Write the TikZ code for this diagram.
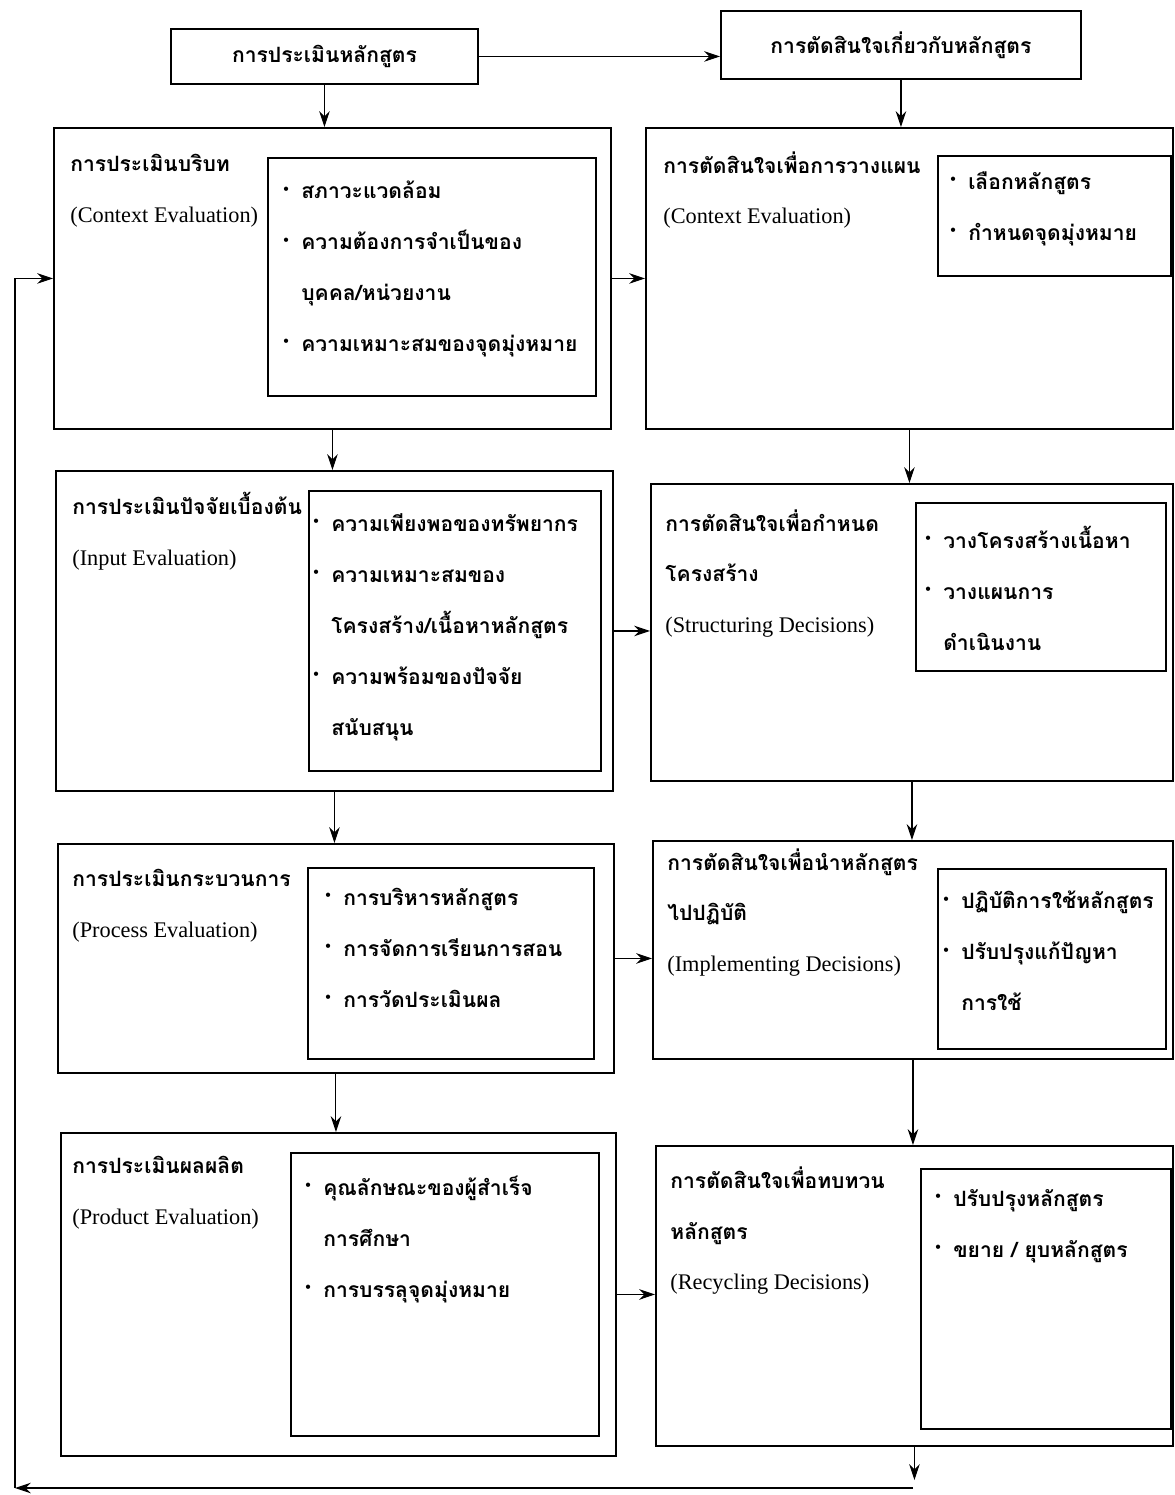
\documentclass[tikz,border=0pt]{standalone}
\usepackage{fontspec}
\setmainfont{Liberation Serif}
\newfontfamily\thaifont[Script=Thai]{Loma}
\usepackage{tikz}
\usetikzlibrary{arrows.meta}

\newcommand\bul{\makebox[0.85em][l]{\raisebox{.45ex}{\rmfamily\fontsize{9}{9}\selectfont\textbullet}}}
\newcommand\cont{\hspace*{0.85em}}
\newcommand\en{\rmfamily\mdseries\fontsize{12.7}{29}\selectfont}

\begin{document}
\begin{tikzpicture}[x=0.02cm, y=-0.02cm, >={Stealth[length=9pt,width=6pt]}]
\tikzstyle{box} = [draw, rectangle, line width=1.1pt, anchor=north west, inner sep=0pt]
\tikzstyle{txt} = [anchor=north west, inner sep=0pt, align=left, font=\thaifont\bfseries\fontsize{12}{29}\selectfont]
\tikzstyle{line} = [draw, ->, line width=0.6pt]
\tikzset{wh/.style 2 args={minimum width=#1*0.02cm, minimum height=#2*0.02cm}}

\useasboundingbox (0,0) rectangle (1175,1495);

% top row
\node [box, wh={307}{55}, font=\thaifont\bfseries\fontsize{12}{29}\selectfont] (evalTop) at (170,28) {การประเมินหลักสูตร};
\node [box, wh={360}{68}, font=\thaifont\bfseries\fontsize{12}{29}\selectfont] (decTop) at (720,10) {การตัดสินใจเกี่ยวกับหลักสูตร};

% evaluation column
\node [box, wh={557}{301}] (ctx) at (53,127) {};
\node [box, wh={328}{238}] (ctxL) at (267,157) {};
\node [txt] (ctxT) at (70,154) {การประเมินบริบท\\{\en (Context Evaluation)}};
\node [txt] at (283,181) {\bul สภาวะแวดล้อม\\\bul ความต้องการจำเป็นของ\\\cont บุคคล/หน่วยงาน\\\bul ความเหมาะสมของจุดมุ่งหมาย};

\node [box, wh={557}{320}] (inp) at (55,470) {};
\node [box, wh={292}{280}] (inpL) at (308,490) {};
\node [txt] (inpT) at (72,492) {การประเมินปัจจัยเบื้องต้น\\{\en (Input Evaluation)}};
\node [txt] at (313,513) {\bul ความเพียงพอของทรัพยากร\\\bul ความเหมาะสมของ\\\cont โครงสร้าง/เนื้อหาหลักสูตร\\\bul ความพร้อมของปัจจัย\\\cont สนับสนุน};

\node [box, wh={556}{229}] (proc) at (57,843) {};
\node [box, wh={286}{191}] (procL) at (307,867) {};
\node [txt] (procT) at (72,869) {การประเมินกระบวนการ\\{\en (Process Evaluation)}};
\node [txt] at (325,888) {\bul การบริหารหลักสูตร\\\bul การจัดการเรียนการสอน\\\bul การวัดประเมินผล};

\node [box, wh={555}{323}] (prod) at (60,1132) {};
\node [box, wh={308}{283}] (prodL) at (290,1152) {};
\node [txt] (prodT) at (72,1156) {การประเมินผลผลิต\\{\en (Product Evaluation)}};
\node [txt] at (305,1176) {\bul คุณลักษณะของผู้สำเร็จ\\\cont การศึกษา\\\bul การบรรลุจุดมุ่งหมาย};

% decision column
\node [box, wh={527}{301}] (plan) at (645,127) {};
\node [box, wh={233}{120}] (planL) at (937,155) {};
\node [txt] (planT) at (663,151) {การตัดสินใจเพื่อการวางแผน\\{\en (Context Evaluation)}};
\node [txt] at (950,171) {\bul เลือกหลักสูตร\\\bul กำหนดจุดมุ่งหมาย};

\node [box, wh={522}{297}] (struc) at (650,483) {};
\node [box, wh={250}{168}] (strucL) at (915,502) {};
\node [txt] (strucT) at (665,509) {การตัดสินใจเพื่อกำหนด\\โครงสร้าง\\{\en (Structuring Decisions)}};
\node [txt] at (925,526) {\bul วางโครงสร้างเนื้อหา\\\bul วางแผนการ\\\cont ดำเนินงาน};

\node [box, wh={520}{218}] (impl) at (652,840) {};
\node [box, wh={228}{180}] (implL) at (937,868) {};
\node [txt] (implT) at (667,848) {การตัดสินใจเพื่อนำหลักสูตร\\ไปปฏิบัติ\\{\en (Implementing Decisions)}};
\node [txt] at (943,891) {\bul ปฏิบัติการใช้หลักสูตร\\\bul ปรับปรุงแก้ปัญหา\\\cont การใช้};

\node [box, wh={517}{300}] (recyc) at (655,1145) {};
\node [box, wh={250}{260}] (recycL) at (920,1168) {};
\node [txt] (recycT) at (670,1166) {การตัดสินใจเพื่อทบทวน\\หลักสูตร\\{\en (Recycling Decisions)}};
\node [txt] at (935,1189) {\bul ปรับปรุงหลักสูตร\\\bul ขยาย / ยุบหลักสูตร};

% connectors
\path [line] (evalTop.east) -- (evalTop.east -| decTop.west);
\path [line] (evalTop.south) -- (evalTop.south |- ctx.north);
\path [line] (decTop.south) -- (decTop.south |- plan.north);
\path [line] (ctx.south) -- (ctx.south |- inp.north);
\path [line] (inp.south) -- (inp.south |- proc.north);
\path [line] (proc.south) -- (proc.south |- prod.north);
\path [line] (plan.south) -- (plan.south |- struc.north);
\path [line] (struc.south) -- (struc.south |- impl.north);
\path [line] (impl.south) -- (impl.south |- recyc.north);
\path [line] (ctx.east) -- (ctx.east -| plan.west);
\path [line] (inp.east) -- (inp.east -| struc.west);
\path [line] (proc.east) -- (proc.east -| impl.west);
\path [line] (prod.east) -- (prod.east -| recyc.west);

% feedback loop
\coordinate (fbR) at (913,1488);
\coordinate (fbL) at (15,1488);
\path [line] (recyc.south) -- (recyc.south |- 0,1480);
\path [line] (fbR) -- (fbL);
\path [line] (fbL) |- (ctx.west);
\end{tikzpicture}
\end{document}
